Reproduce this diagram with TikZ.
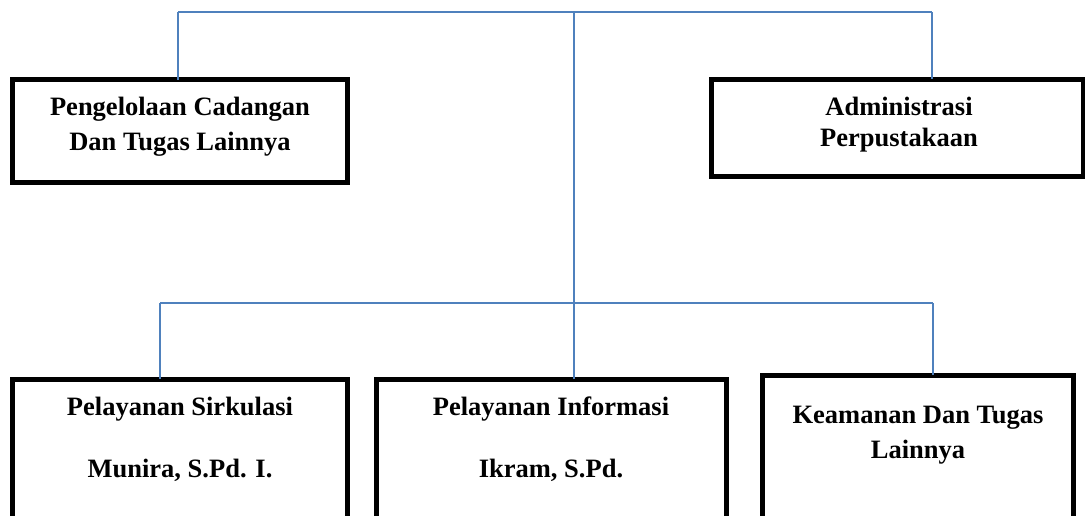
\documentclass[tikz,border=0pt]{standalone}
\usepackage{fontspec}
\setmainfont{Liberation Serif}
\begin{document}
\begin{tikzpicture}[x=1pt,y=-1pt,
  box/.style={draw=black,line width=5pt,rectangle,inner sep=0pt,outer sep=0pt,fill=white},
  conn/.style={draw=linkblue,line width=2pt},
  lbl/.style={anchor=base,inner sep=0pt,font=\fontsize{26.5}{30}\selectfont\bfseries}]
\definecolor{linkblue}{HTML}{4F81BD}
\useasboundingbox (0,0) rectangle (1085,515);
\clip (0,0) rectangle (1085,515);
% hub coordinates
\coordinate (topL) at (178,12);
\coordinate (topR) at (932,12);
\coordinate (topC) at (574,12);
\coordinate (midL) at (160,303);
\coordinate (midR) at (933,303);
% boxes
\node[box,minimum width=335pt,minimum height=103pt] (b1) at (180,131) {};
\node[box,minimum width=371.5pt,minimum height=97.5pt] (b2) at (897.25,127.75) {};
\node[box,minimum width=335pt,minimum height=141pt] (b3) at (180,449.5) {};
\node[box,minimum width=350pt,minimum height=141pt] (b4) at (551,449.5) {};
\node[box,minimum width=311pt,minimum height=145pt] (b5) at (918,447.5) {};
% connectors
\draw[conn] (topL) -- (topR);
\draw[conn] (topL) -- (topL |- b1.north);
\draw[conn] (topR) -- (topR |- b2.north);
\draw[conn] (topC) -- (topC |- b4.north);
\draw[conn] (midL) -- (midR);
\draw[conn] (midL) -- (midL |- b3.north);
\draw[conn] (midR) -- (midR |- b5.north);
% labels
\node[lbl] (t1a) at (180,115) {Pengelolaan Cadangan};
\node[lbl] (t1b) at (180,150) {Dan Tugas Lainnya};
\node[lbl] (t2a) at (899,115) {Administrasi};
\node[lbl] (t2b) at (899,146) {Perpustakaan};
\node[lbl] (t3a) at (180,415) {Pelayanan Sirkulasi};
\node[lbl] (t3b) at (180,477) {Munira, S.Pd. I.};
\node[lbl] (t4a) at (551,415) {Pelayanan Informasi};
\node[lbl] (t4b) at (551,477) {Ikram, S.Pd.};
\node[lbl] (t5a) at (918,423) {Keamanan Dan Tugas};
\node[lbl] (t5b) at (918,458) {Lainnya};
\end{tikzpicture}
\end{document}
